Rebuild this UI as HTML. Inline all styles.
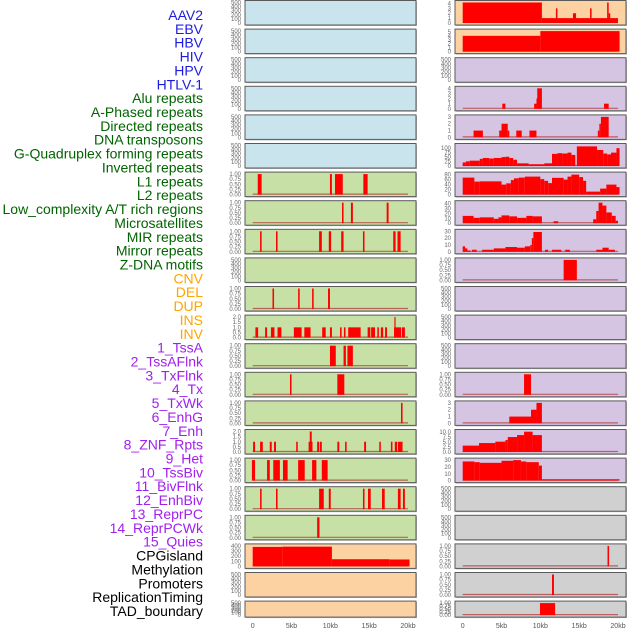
<!DOCTYPE html>
<html><head><meta charset="utf-8"><style>
body{margin:0;background:#fff}
svg{display:block}
</style></head><body>
<svg id="chart" width="630" height="630" viewBox="0 0 630 630" xmlns="http://www.w3.org/2000/svg" font-family="Liberation Sans, sans-serif"></svg>
<script>
// ---- data ----
const trackLabels = ["AAV2","EBV","HBV","HIV","HPV","HTLV-1","Alu repeats","A-Phased repeats","Directed repeats","DNA transposons","G-Quadruplex forming repeats","Inverted repeats","L1 repeats","L2 repeats","Low_complexity A/T rich regions","Microsatellites","MIR repeats","Mirror repeats","Z-DNA motifs","CNV","DEL","DUP","INS","INV","1_TssA","2_TssAFlnk","3_TxFlnk","4_Tx","5_TxWk","6_EnhG","7_Enh","8_ZNF_Rpts","9_Het","10_TssBiv","11_BivFlnk","12_EnhBiv","13_ReprPC","14_ReprPCWk","15_Quies","CPGisland","Methylation","Promoters","ReplicationTiming","TAD_boundary"];
const labelGroups = [6,13,5,15,5];
const xTicks = [0,5,10,15,20];
const xTickLabels = ["0","5kb","10kb","15kb","20kb"];
const ticksEmpty = ["0","100","200","300","400","500"];
const ticksFrac = ["0.00","0.25","0.50","0.75","1.00"];
const ticks2 = ["0.0","0.5","1.0","1.5","2.0"];
// segments: [startKb, endKb, value]
const L6 = [[0.65,1.15,1],[9.95,10.2,1],[10.6,11.6,1],[14.25,14.8,1]];
const L7 = [[11.5,11.7,1],[12.65,12.9,1],[17.25,17.5,1]];
const L8 = [[0.95,1.15,1],[3,3.2,1],[8.55,8.9,1],[9.8,10.1,1],[11.4,11.7,1],[14.2,14.4,1],[18.1,18.4,1],[18.65,19.05,1]];
const L10 = [[2.55,2.75,1],[5.85,6.05,1],[7.65,7.85,1],[9.7,9.95,1]];
const L11 = [[0.35,0.7,1],[1.6,1.85,1],[2.35,2.8,1],[3.2,3.7,1],[5.3,6.3,1],[6.65,7.45,1],[8.95,9.4,1],[9.95,10.2,1],[11.25,11.45,1],[11.75,11.95,1],[12.3,13.9,1],[14.8,15.15,1],[15.25,15.75,1],[16.05,16.25,1],[16.5,16.8,1],[17.05,17.3,1],[18.2,19.1,1],[18.25,18.4,2],[19.2,19.6,1]];
const L12 = [[9.95,10.7,1],[11.7,12,1],[12.2,12.9,1]];
const L13 = [[4.8,5.0,1],[10.9,11.8,1]];
const L14 = [[19.1,19.3,1]];
const L15 = [[0.05,0.3,1],[0.95,1.3,1],[2.2,2.45,1],[2.75,3,1],[5.6,5.8,1],[7.2,7.7,1],[7.35,7.6,2],[8.3,8.55,1],[8.65,8.9,1],[10.9,11.15,1],[11.9,12.1,1],[14.35,14.6,1],[16.3,16.5,1],[17.8,18,1],[18.3,18.6,1],[18.7,19.1,1],[19.1,19.3,1]];
const L16 = [[-0.1,0.3,1],[1.85,2.2,1],[2.65,3.5,1],[3.9,4.5,1],[5.85,6.7,1],[7.65,8.2,1],[8.9,9.65,1]];
const L17 = [[0.95,1.15,1],[3,3.2,1],[8.55,9.15,1],[9.8,10.05,1],[14.2,14.4,1],[14.85,15.2,1],[16.65,17,1],[18.7,19.05,1],[19.35,19.6,1]];
const L18 = [[8.3,8.6,1]];
const L19 = [[0,3.8,380],[3.8,10.2,385],[10.2,17.6,140],[17.6,20.2,135]];
const R0 = [[0,10.2,4.2],[10.2,20,1],[12,12.2,3],[14.2,14.6,2],[16.4,16.6,3],[18.6,18.8,4.2],[18.8,19,2]];
const R1 = [[0,10,4],[10,20.2,5.2]];
const R3 = [[5.1,5.5,1],[9.2,9.5,1],[9.5,9.6,2],[9.6,10.2,4]];
const R3b = [[18.2,18.8,1]];
const R4 = [[1.4,2.6,1],[4.7,5,1],[5,5.8,2],[5.8,6,1],[6.9,7.6,1],[8.6,9.5,1],[17.4,17.6,1],[17.6,17.8,2],[17.8,18.8,3]];
const R5 = [[0,0.4,20],[0.4,0.9,26],[0.9,2.2,30],[2.2,2.6,40],[2.6,3.4,45],[3.4,4,42],[4,5,45],[5,5.5,50],[5.5,6,52],[6,6.5,45],[6.5,7,35],[7,8.5,15],[8.5,10.5,10],[10.5,11.5,15],[11.5,12.2,68],[12.2,12.8,72],[12.8,13.5,70],[13.5,14,75],[14,14.5,62],[14.5,15.2,55],[15.2,15.6,65],[15.6,16,78],[16,16.4,88],[16.4,19.2,110],[19.2,19.6,92],[19.6,20,75],[20,20.8,65],[20.8,21.5,72]];
const R5b = [[14.7,17.3,110],[17.3,18.1,90],[18.1,18.6,70],[18.6,19.1,65],[19.1,19.8,75],[19.8,20.2,100]];
const R6 = [[0,1.5,68],[1.5,2.2,52],[2.2,5,53],[5,5.6,40],[5.6,6.2,45],[6.2,6.6,58],[6.6,7.2,65],[7.2,8,68],[8,10,72],[10,10.5,62],[10.5,11,55],[11,11.5,46],[11.5,13,67],[13,13.5,60],[13.5,14,72],[14,15,80],[15,15.5,70],[15.5,15.9,55],[15.9,17.7,12],[17.7,18.5,24],[18.5,19.8,40],[19.8,20.2,30]];
const R7 = [[0,1.4,15],[1.4,2.2,11],[2.2,4,12],[4,4.6,9],[4.6,5,12],[5,6,16],[6,7,14],[7,8.2,11],[8.2,9,15],[9,10.2,14],[11.7,12.3,4],[16.8,17.2,8],[17.2,17.5,25],[17.5,18,42],[18,18.5,36],[18.5,19.2,22],[19.2,19.7,15],[19.7,20,5]];
const R8 = [[0,0.3,8],[0.3,0.6,5],[0.6,1,2],[1.2,1.8,3],[2.5,4,3],[4,5.5,5],[5.5,7,7],[7,8,6],[8,8.7,8],[8.7,8.9,10],[8.9,9.1,20],[9.1,10.2,29],[10.6,11,3],[11.5,12.7,3],[13.2,13.8,3],[17.2,18,3],[18,18.8,6],[18.8,19.6,3]];
const R9 = [[13,14.7,1]];
const R13 = [[7.9,8.8,1]];
const R14 = [[6,8.8,1],[8.8,9.5,2],[9.5,10.2,3]];
const R15 = [[0,2.1,3.2],[2.1,4.2,4.5],[4.2,5.5,5.2],[5.5,5.8,6],[5.8,7,7.5],[7,7.9,8.5],[7.9,9,10.2],[9,10.2,8.5]];
const R16 = [[0,1.5,28],[1.5,2.2,27],[2.2,5,26],[5,6.5,29],[6.5,7.5,30],[7.5,8.2,28],[8.2,9.8,27],[9.8,10.2,22],[10.2,20.2,2]];
const R19 = [[18.65,18.85,1]];
const R20 = [[11.5,11.75,1]];
const R21 = [[9.95,11.9,1]];

// ---- layout ----
const svg = document.getElementById('chart');
const NS = 'http://www.w3.org/2000/svg';
const cols = [{x0:245,x1:416,k0:252.7,k20:408},{x0:455,x1:626,k0:462.7,k20:618}];
const BG = {blue:'#c9e4ec',green:'#c7e0a5',orange:'#fdd2a3',purple:'#d5c5e2',grey:'#d0d0d0'};
function rowY(r){return 0.5 + r*28.6;}
function rowH(r){return r===21?16:24.5;}
function mk(tag, attrs, parent){const e=document.createElementNS(NS,tag);for(const k in attrs)e.setAttribute(k,attrs[k]);(parent||svg).appendChild(e);return e;}

const panels = [];
for(let r=0;r<22;r++){
  let bg = r<6?'blue':(r<19?'green':'orange');
  panels.push({c:0,r,bg});
}
for(let r=0;r<22;r++){
  let bg = r<2?'orange':(r<17?'purple':'grey');
  panels.push({c:1,r,bg});
}
const leftData = {6:[L6,ticksFrac,1],7:[L7,ticksFrac,1],8:[L8,ticksFrac,1],10:[L10,ticksFrac,1],11:[L11,ticks2,2],12:[L12,ticksFrac,1],13:[L13,ticksFrac,1],14:[L14,ticksFrac,1],15:[L15,ticks2,2],16:[L16,ticksFrac,1],17:[L17,ticksFrac,1],18:[L18,ticksFrac,1],19:[L19,["0","100","200","300","400"],400]};
const rightData = {0:[R0,["0","1","2","3","4"],4.2],1:[R1,["0","1","2","3","4","5"],5.2],3:[R3.concat(R3b),["0","1","2","3","4"],4],4:[R4,["0","1","2","3"],3],5:[R5b.concat(R5.filter(s=>s[1]<=14.7)),["0","25","50","75","100"],115],6:[R6,["0","20","40","60","80"],82],7:[R7,["0","10","20","30","40"],42],8:[R8,["0","10","20","30"],30],9:[R9,ticksFrac,1],13:[R13,ticksFrac,1],14:[R14,["0","1","2","3"],3],15:[R15,["0.0","2.5","5.0","7.5","10.0"],10.3],16:[R16,["0","10","20","30"],30],19:[R19,ticksFrac,1],20:[R20,ticksFrac,1],21:[R21,ticksFrac,1]};

panels.forEach(p=>{
  const col = cols[p.c];
  const y = rowY(p.r), h = rowH(p.r);
  const g = mk('g',{});
  
  
  const rect = mk('rect',{x:col.x0+1,y:y+1,width:col.x1-col.x0,height:h,fill:'#bbb'},g);
  mk('rect',{x:col.x0,y:y,width:col.x1-col.x0,height:h,fill:BG[p.bg],stroke:'#5a5a5a','stroke-width':1},g);
  const d = (p.c===0?leftData:rightData)[p.r];
  const ticks = d?d[1]:ticksEmpty;
  const ymax = d?d[2]:500;
  const yb = y+h-2, yt = y+2;
  const sy = v => yb - (v/ymax)*(yb-yt);
  const sx = k => col.k0 + (k/20)*(col.k20-col.k0);
  ticks.forEach(t=>{
    const tx = mk('text',{x:col.x0-4,y:sy(parseFloat(t))+2,'font-size':6,fill:'#666','text-anchor':'end'},g);
    tx.textContent = t;
    
    
  });
  if(d){
    mk('line',{x1:sx(0),x2:sx(20),y1:yb-0.5,y2:yb-0.5,stroke:'#b03030','stroke-width':1.2,opacity:0.7},g);
    d[0].forEach(s=>{
      const bar = mk('rect',{x:sx(s[0]),y:sy(s[2]),width:Math.max(1,sx(s[1])-sx(s[0])),height:yb-sy(s[2]),fill:'#ff0000'},g);
      
      
    });
  }
});

// x axes
cols.forEach((col,ci)=>{
  xTicks.forEach((k,i)=>{
    const t = mk('text',{x:col.k0+(k/20)*(col.k20-col.k0),y:628,'font-size':7,fill:'#555','text-anchor':'middle'});
    t.textContent = xTickLabels[i];
    
    
  });
});

// track labels
const groupColors = ['#1c1ce0','#006400','#ffa500','#a020f0','#000000'];
let idx = 0;
labelGroups.forEach((n,gi)=>{
  for(let i=0;i<n;i++){
    const t = mk('text',{x:203,y:20+idx*13.86,'font-size':14,fill:groupColors[gi],'text-anchor':'end'});
    t.textContent = trackLabels[idx];
    
    
    idx++;
  }
});
</script>
</body></html>
